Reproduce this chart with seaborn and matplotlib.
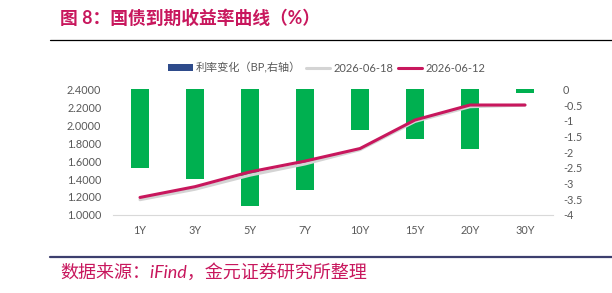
import numpy as np
import pandas as pd
import matplotlib
matplotlib.use("Agg")
import matplotlib.pyplot as plt
import seaborn as sns
from matplotlib.patches import Patch
from matplotlib.lines import Line2D
from matplotlib.ticker import FuncFormatter, FixedLocator

# ---- data ----
tenors = ["1Y", "3Y", "5Y", "7Y", "10Y", "15Y", "20Y", "30Y"]
change_bp = [-2.51, -2.87, -3.73, -3.20, -1.28, -1.59, -1.90, -0.13]
yield_0618 = [1.170, 1.286, 1.443, 1.568, 1.727, 2.042, 2.206, 2.224]
yield_0612 = [1.195, 1.315, 1.480, 1.600, 1.740, 2.058, 2.225, 2.225]
left_ticks = [1.0, 1.2, 1.4, 1.6, 1.8, 2.0, 2.2, 2.4]
right_ticks = [0, -0.5, -1, -1.5, -2, -2.5, -3, -3.5, -4]
legend_labels = ["利率变化（BP,右轴）", "2026-06-18", "2026-06-12"]
title_text = "图 8：国债到期收益率曲线（%）"
source_text = "数据来源：iFind，金元证券研究所整理"

sns.set_theme(style="white")
plt.rcParams["font.family"] = ["Lato", "Noto Sans CJK SC", "DejaVu Sans"]

GREEN = "#00B050"
MAGENTA = "#C8175D"
GRAY = "#D4D4D4"
BLUE = "#2E4B8B"
TICK = "#595959"

W, H = 612, 293
fig = plt.figure(figsize=(W / 100, H / 100), dpi=100)
ax = fig.add_axes([112.5 / W, (H - 215) / H, 440 / W, (215 - 89.3) / H])
ax2 = ax.twinx()

df_bar = pd.DataFrame({"tenor": tenors, "chg": change_bp})
sns.barplot(data=df_bar, x="tenor", y="chg", color=GREEN, saturation=1,
            width=0.33, ax=ax, edgecolor="none")

df_line = pd.DataFrame({
    "tenor": tenors * 2,
    "yield": yield_0618 + yield_0612,
    "date": ["2026-06-18"] * len(tenors) + ["2026-06-12"] * len(tenors),
})
sns.lineplot(data=df_line, x="tenor", y="yield", hue="date",
             palette={"2026-06-18": GRAY, "2026-06-12": MAGENTA},
             linewidth=2.2, sort=False, ax=ax2, legend=False)

ax.set_xlim(-0.5, 7.5)
ax.set_ylim(-4.002, 0.0005)
ax2.set_ylim(0.9993, 2.4002)

# bars axis -> right side ticks ; lines axis -> left side ticks
ax.yaxis.tick_right()
ax.yaxis.set_label_position("right")
ax2.yaxis.tick_left()
ax2.yaxis.set_label_position("left")

ax.yaxis.set_major_locator(FixedLocator(right_ticks))
ax.yaxis.set_major_formatter(FuncFormatter(lambda v, p: "%g" % v))
ax2.yaxis.set_major_locator(FixedLocator(left_ticks))
ax2.yaxis.set_major_formatter(FuncFormatter(lambda v, p: "%.4f" % v))

for a in (ax, ax2):
    a.set_xlabel("")
    a.set_ylabel("")
    for s in a.spines.values():
        s.set_visible(False)
    a.tick_params(length=0, labelsize=7.8, labelcolor=TICK)
    a.grid(False)
ax.tick_params(axis="y", pad=7.5)
ax2.tick_params(axis="y", pad=8)
ax.tick_params(axis="x", pad=7)
ax2.tick_params(axis="x", labelbottom=False)
ax.spines["bottom"].set_visible(True)
ax.spines["bottom"].set_color("#D9D9D9")
ax.spines["bottom"].set_linewidth(0.8)

handles = [
    Patch(facecolor=BLUE, edgecolor="none"),
    Line2D([0], [0], color=GRAY, lw=2.2),
    Line2D([0], [0], color=MAGENTA, lw=2.2),
]
fig.legend(handles, legend_labels, loc="center", bbox_to_anchor=(327 / W, 1 - 68 / H),
           ncol=3, frameon=False, fontsize=8, handlelength=2.2, handleheight=0.5,
           columnspacing=0.4, handletextpad=0.3, labelcolor=TICK)

fig.text(60 / W, 1 - 18 / H, title_text, fontsize=12.8, fontweight="bold",
         color=MAGENTA, va="center", ha="left")
fig.text(60 / W, 1 - 272 / H, source_text, fontsize=13, color=MAGENTA,
         va="center", ha="left", style="italic")

fig.add_artist(Line2D([50 / W, 1.0], [1 - 40 / H] * 2, color="black", lw=0.9,
                      transform=fig.transFigure))
fig.add_artist(Line2D([50 / W, 1.0], [1 - 257 / H] * 2, color="#3C3F6E", lw=1.6,
                      transform=fig.transFigure))

fig.savefig("out.png", dpi=100)
